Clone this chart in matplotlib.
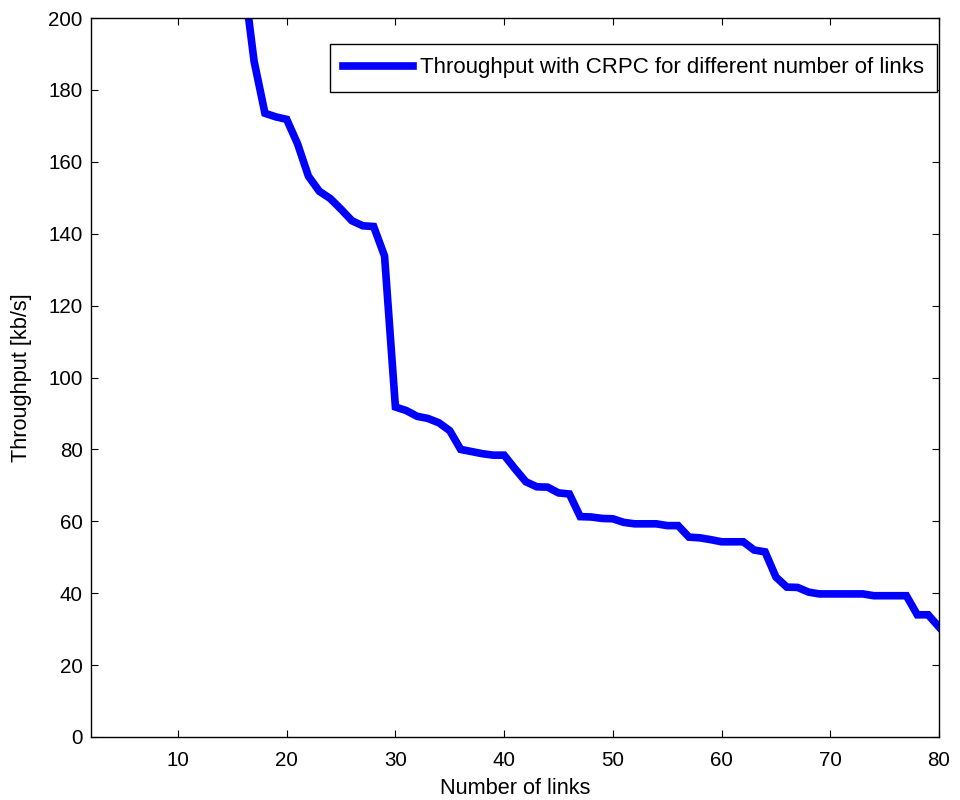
import matplotlib
matplotlib.use("Agg")
import matplotlib.pyplot as plt

plt.rcParams['font.family'] = ['Liberation Sans', 'DejaVu Sans']

links = list(range(2, 81))
throughput = [
    # 2..15 (above the visible range, estimated)
    620, 560, 505, 460, 420, 385, 352, 325, 300, 280, 262, 246, 232, 221,
    # 16..29
    212, 188, 173.5, 172.5, 171.8, 165, 156, 151.8, 149.8, 146.8, 143.6, 142.2, 142.0, 133.8,
    # 30..45
    91.8, 90.8, 89.2, 88.6, 87.4, 85.2, 80.0, 79.4, 78.8, 78.4, 78.4, 74.6, 71.0, 69.6, 69.5, 67.9,
    # 46..60
    67.6, 61.3, 61.2, 60.8, 60.7, 59.7, 59.3, 59.3, 59.3, 58.8, 58.8, 55.6, 55.4, 54.9, 54.3,
    # 61..80
    54.3, 54.3, 52.0, 51.5, 44.5, 41.7, 41.6, 40.3, 39.8, 39.8, 39.8, 39.8, 39.8, 39.3, 39.3,
    39.3, 39.3, 34.0, 34.0, 30.6,
]
xticks = [10, 20, 30, 40, 50, 60, 70, 80]
yticks = [0, 20, 40, 60, 80, 100, 120, 140, 160, 180, 200]
legend_label = "Throughput with CRPC for different number of links"

fig = plt.figure(figsize=(9.6, 8.0), dpi=100)
ax = fig.add_axes([91/960, 63/800, 848/960, 719/800])

ax.plot(links, throughput, color='#0000ff', linewidth=5.5, label=legend_label,
        solid_joinstyle='miter')

ax.set_xlim(2, 80)
ax.set_ylim(0, 200)
ax.set_xticks(xticks)
ax.set_yticks(yticks)
ax.tick_params(direction='in', top=True, right=True, length=5, width=0.8,
               labelsize=14.8, colors='black')
ax.tick_params(axis='x', pad=10)
ax.tick_params(axis='y', pad=6)
for s in ax.spines.values():
    s.set_linewidth(1.0)
    s.set_color('black')

ax.set_xlabel("Number of links", fontsize=15.7, labelpad=6)
ax.set_ylabel("Throughput [kb/s]", fontsize=15.7, labelpad=12)

leg = ax.legend(loc='upper right', bbox_to_anchor=(0.9976, 0.9638), fontsize=16,
                handlelength=3.15, handletextpad=0.3, borderpad=0.6,
                fancybox=False, framealpha=1, edgecolor='black', borderaxespad=0)
leg.get_frame().set_linewidth(1.0)

fig.savefig("out.png", dpi=100, facecolor='white')
